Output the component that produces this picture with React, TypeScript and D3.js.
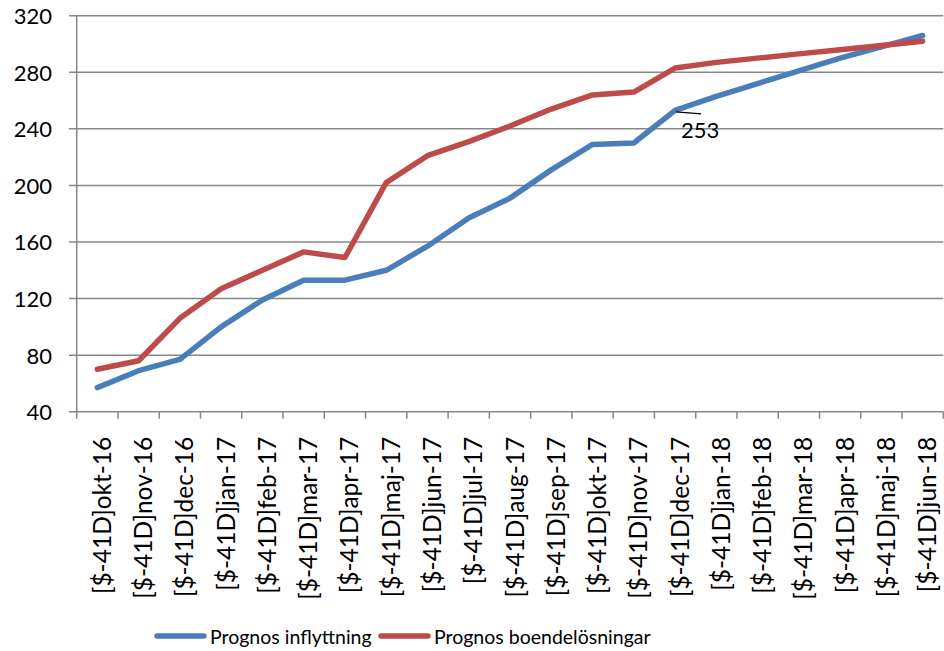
import React from "react";
import * as d3 from "d3";

const months = [
  "okt-16", "nov-16", "dec-16", "jan-17", "feb-17", "mar-17", "apr-17",
  "maj-17", "jun-17", "jul-17", "aug-17", "sep-17", "okt-17", "nov-17",
  "dec-17", "jan-18", "feb-18", "mar-18", "apr-18", "maj-18", "jun-18",
];
const categoryLabels = months.map((m) => "[$-41D]" + m);
const inflyttning = [57, 69, 77, 100, 119, 133, 133, 140, 157, 177, 191, 211, 229, 230, 253, 263, 272, 281, 290, 298, 306];
const boendelosningar = [70, 76, 106, 127, 140, 153, 149, 202, 221, 231, 242, 254, 264, 266, 283, 287, 290, 293, 296, 299, 302];
const yTicks = [40, 80, 120, 160, 200, 240, 280, 320];
const seriesNames = ["Prognos inflyttning", "Prognos boendelösningar"];
const seriesColors = ["#4a7ebb", "#be4b48"];
const labelIndex = 14;

const W = 944;
const H = 651;
const plotLeft = 76.7;
const plotRight = 943.3;
const plotTop = 15.7;
const plotBottom = 411.7;
const FONT = "Lato, 'Open Sans', sans-serif";

export default function App() {
  const x = d3.scaleBand<string>().domain(months).range([plotLeft, plotRight]).padding(0);
  const y = d3.scaleLinear().domain([40, 320]).range([plotBottom, plotTop]);
  const cx = (m: string) => (x(m) as number) + x.bandwidth() / 2;
  const line = d3
    .line<number>()
    .x((_, i) => cx(months[i]))
    .y((v) => y(v));
  const series = [inflyttning, boendelosningar];
  const tickXs = months.map((m) => x(m) as number).concat([plotRight]);

  const lx = cx(months[labelIndex]);
  const ly = y(inflyttning[labelIndex]);

  return (
    <svg
      width={W}
      height={H}
      style={{ position: "absolute", left: 0, top: 0, background: "#fff" }}
      fontFamily={FONT}
    >
      {/* gridlines */}
      {yTicks.map((t) => (
        <line key={t} x1={69} x2={plotRight} y1={y(t)} y2={y(t)} stroke="#878787" strokeWidth={1.5} />
      ))}
      {/* y axis */}
      <line x1={plotLeft} x2={plotLeft} y1={plotTop} y2={plotBottom} stroke="#878787" strokeWidth={1.5} />
      {yTicks.map((t) => (
        <text key={t} x={52} y={y(t)} textAnchor="end" dominantBaseline="central" fontSize={22} fill="#000">
          {t}
        </text>
      ))}
      {/* x ticks */}
      {tickXs.map((tx, i) => (
        <line key={i} x1={tx} x2={tx} y1={plotBottom} y2={plotBottom + 7} stroke="#878787" strokeWidth={1.5} />
      ))}
      {/* x labels */}
      {months.map((m, i) => (
        <text
          key={m}
          transform={`translate(${cx(m) + 4},${plotBottom + 25}) rotate(-90)`}
          textAnchor="end"
          dominantBaseline="central"
          fontSize={24.5}
          fill="#000"
        >
          {categoryLabels[i]}
        </text>
      ))}
      {/* lines */}
      {series.map((s, i) => (
        <path
          key={i}
          d={line(s) as string}
          fill="none"
          stroke={seriesColors[i]}
          strokeWidth={5.5}
          strokeLinejoin="round"
          strokeLinecap="round"
        />
      ))}
      {/* data label */}
      <line x1={lx + 1} y1={ly + 1.5} x2={lx + 26} y2={ly + 3.5} stroke="#000" strokeWidth={1.3} />
      <text x={lx + 6} y={ly + 28} fontSize={22} fill="#000">
        {inflyttning[labelIndex]}
      </text>
      {/* legend */}
      {seriesNames.map((n, i) => {
        const x0 = i === 0 ? 157 : 381;
        return (
          <g key={n}>
            <line x1={x0} x2={x0 + 47} y1={636} y2={636} stroke={seriesColors[i]} strokeWidth={5.5} strokeLinecap="round" />
            <text x={x0 + 53} y={636} dominantBaseline="central" fontSize={19.5} fill="#000">
              {n}
            </text>
          </g>
        );
      })}
    </svg>
  );
}
